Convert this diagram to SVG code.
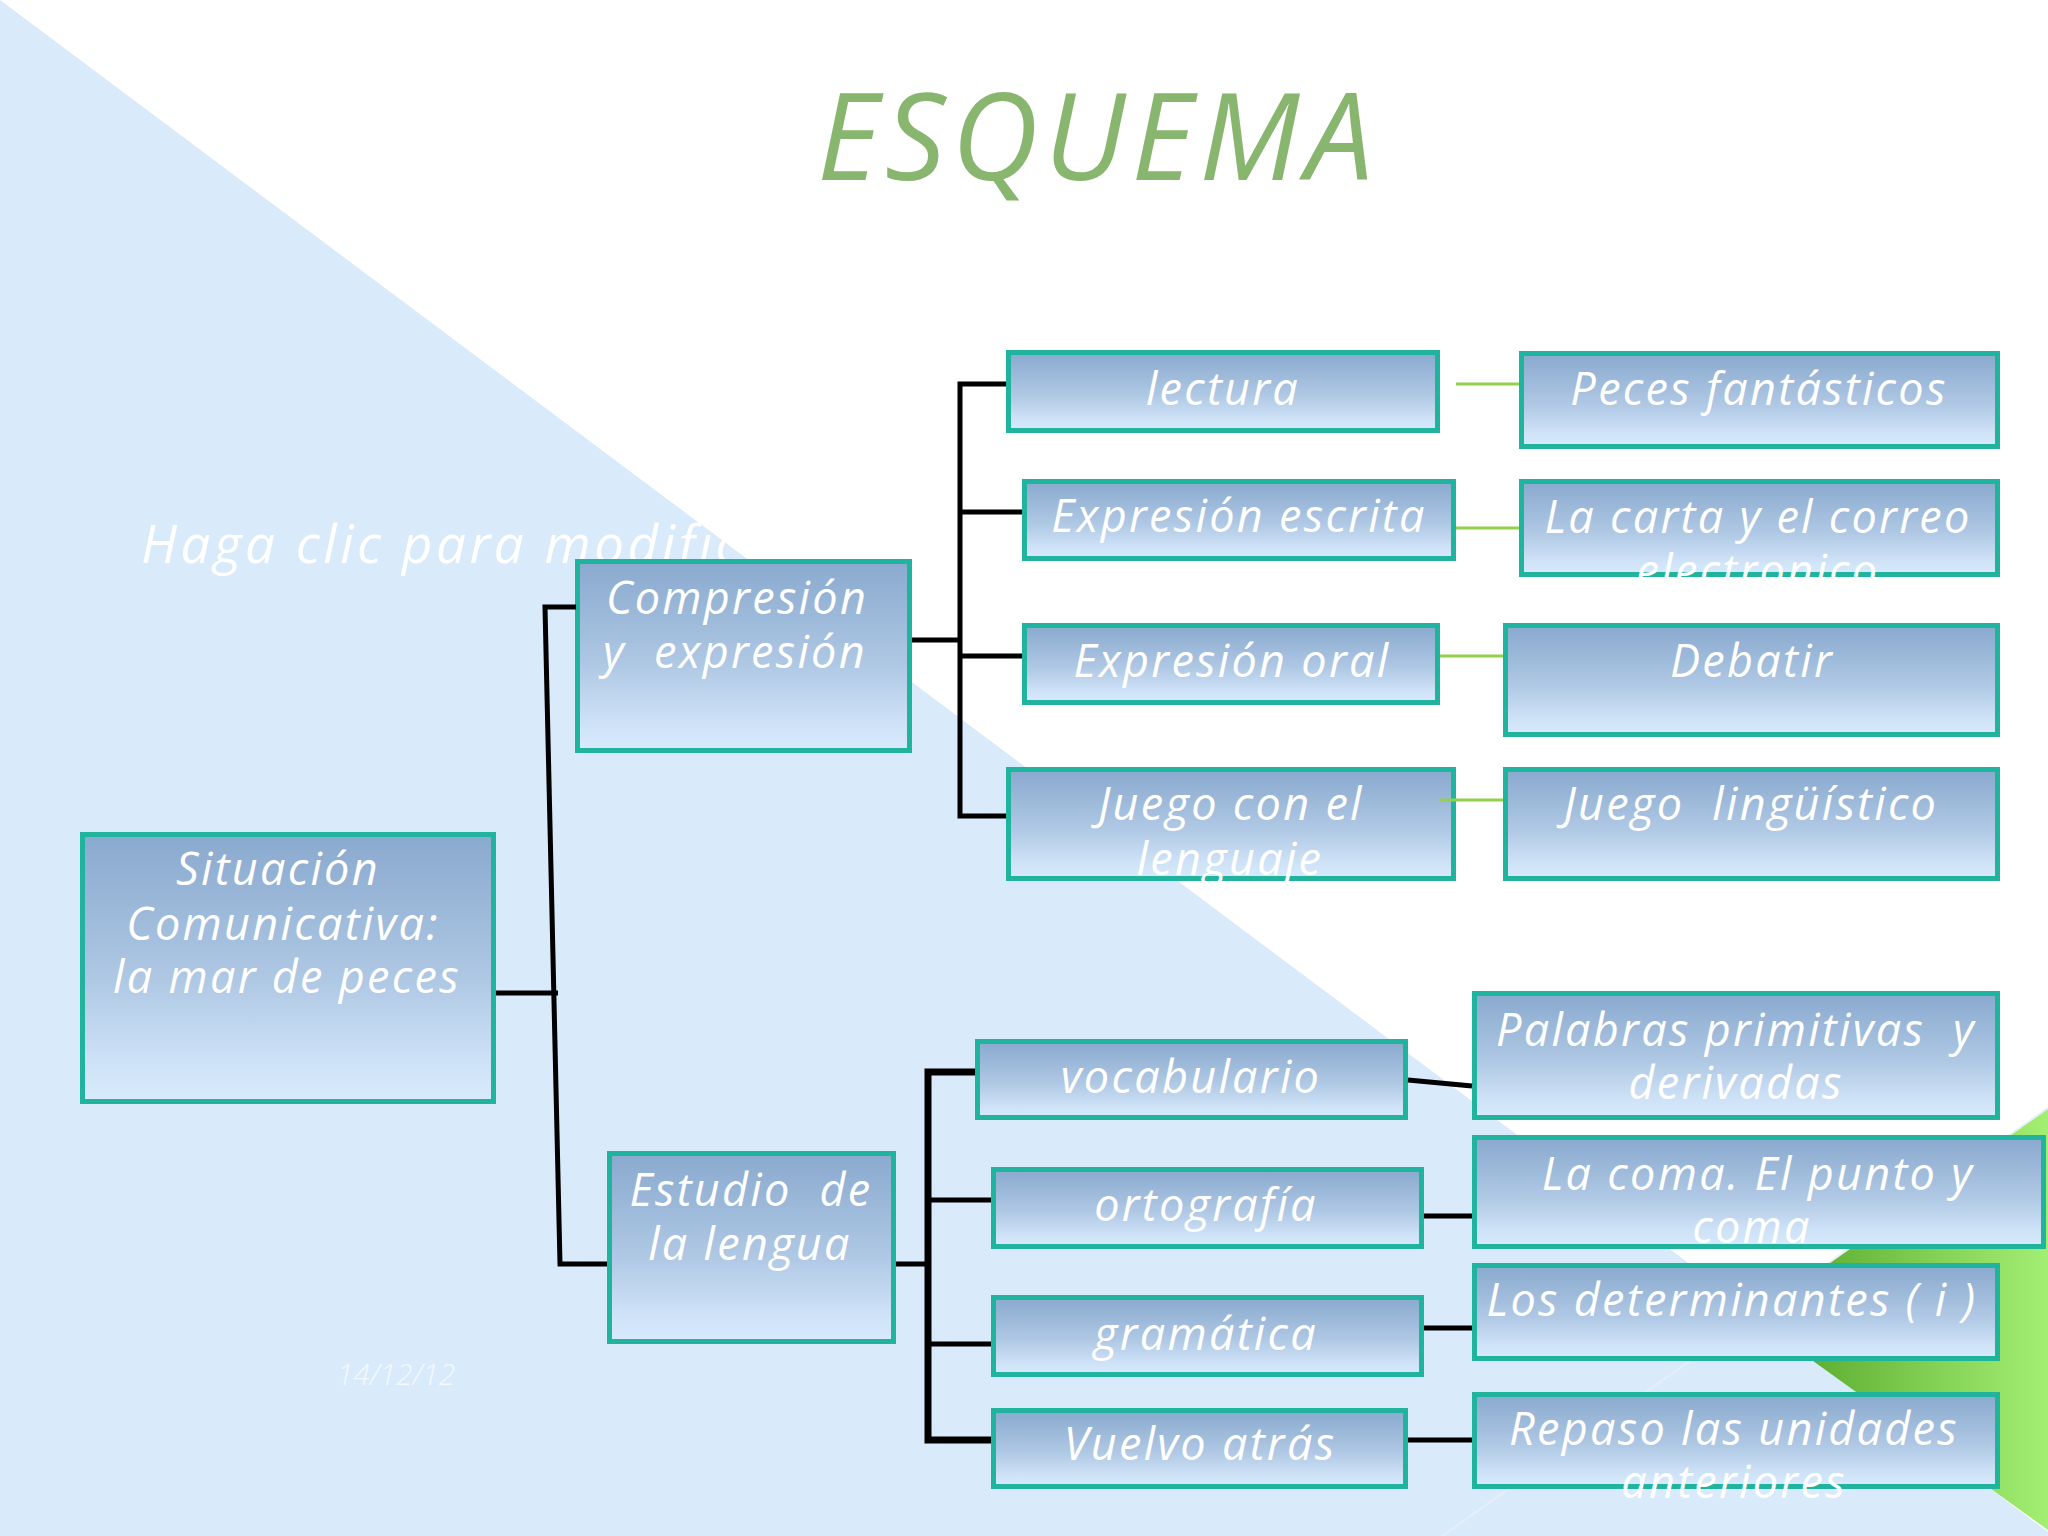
<svg xmlns="http://www.w3.org/2000/svg" width="2048" height="1536" viewBox="0 0 2048 1536" xml:space="preserve">
<defs>
<linearGradient id="boxg" x1="0" y1="0" x2="0" y2="1">
<stop offset="0" stop-color="#89a9ce"/>
<stop offset="0.55" stop-color="#afc8e4"/>
<stop offset="0.85" stop-color="#cee2f7"/>
<stop offset="1" stop-color="#d8ebfc"/>
</linearGradient>
<linearGradient id="greeng" gradientUnits="userSpaceOnUse" x1="1752" y1="0" x2="2048" y2="0">
<stop offset="0" stop-color="#4e9f22"/>
<stop offset="1" stop-color="#a3ef74"/>
</linearGradient>
<style>
.box{fill:url(#boxg);stroke:#20b39d;stroke-width:5}
.t{font-family:"Open Sans","DejaVu Sans",sans-serif;font-style:italic;font-weight:400;font-size:45px;letter-spacing:2.3px;fill:#ffffff;text-anchor:middle;white-space:pre}
.k{fill:none;stroke:#000000;stroke-width:5}
.kb{fill:none;stroke:#000000;stroke-width:7}
.g{fill:none;stroke:#92d050;stroke-width:3}
</style>
</defs>
<rect x="0" y="0" width="2048" height="1536" fill="#ffffff"/>
<polygon points="0,0 2048,1532 2048,1536 0,1536" fill="#d9eafb"/>
<polygon points="2048,1108 1752,1317 2048,1530" fill="url(#greeng)"/>
<line x1="2048" y1="1108" x2="1442" y2="1536" stroke="#e6eef7" stroke-width="2"/>
<text x="141" y="563" style="font-family:'Open Sans','DejaVu Sans',sans-serif;font-style:italic;font-weight:400;font-size:53px;letter-spacing:3.5px;fill:#ffffff;white-space:pre">Haga clic para modific</text>
<text x="396" y="1385" style="font-family:'Open Sans','DejaVu Sans',sans-serif;font-style:italic;font-weight:300;font-size:30px;fill:#f4f9ff;text-anchor:middle">14/12/12</text>
<text x="1098" y="180" style="font-family:'Open Sans','DejaVu Sans',sans-serif;font-style:italic;font-weight:400;font-size:120px;fill:#88b66e;text-anchor:middle;letter-spacing:6px">ESQUEMA</text>

<g id="n-situacion"><rect class="box" x="82.5" y="834.5" width="411" height="267"/>
<text class="t" x="278" y="885">Situación<tspan x="283" dy="55">Comunicativa:</tspan><tspan x="287" dy="53">la mar de peces</tspan></text></g>
<g id="n-compresion"><rect class="box" x="577.5" y="561.5" width="332" height="189"/>
<text class="t" x="737" y="614">Compresión<tspan x="735" dy="54">y  expresión</tspan></text></g>
<g id="n-estudio"><rect class="box" x="609.5" y="1153.5" width="284" height="188"/>
<text class="t" x="751" y="1206">Estudio  de<tspan x="750" dy="54">la lengua</tspan></text></g>
<g id="n-lectura"><rect class="box" x="1008.5" y="352.5" width="429" height="78"/>
<text class="t" x="1223" y="405">lectura</text></g>
<g id="n-escrita"><rect class="box" x="1024.5" y="481.5" width="429" height="77"/>
<text class="t" x="1239" y="532">Expresión escrita</text></g>
<g id="n-oral"><rect class="box" x="1024.5" y="625.5" width="413" height="77"/>
<text class="t" x="1232" y="677">Expresión oral</text></g>
<g id="n-juego"><rect class="box" x="1008.5" y="769.5" width="445" height="109"/>
<text class="t" x="1231" y="820">Juego con el<tspan x="1230" dy="55">lenguaje</tspan></text></g>
<g id="n-peces"><rect class="box" x="1521.5" y="353.5" width="476" height="93"/>
<text class="t" x="1759" y="405">Peces fantásticos</text></g>
<g id="n-carta"><rect class="box" x="1521.5" y="481.5" width="476" height="93"/>
<text class="t" x="1758" y="533">La carta y el correo<tspan x="1758" dy="54">electronico</tspan></text></g>
<g id="n-debatir"><rect class="box" x="1505.5" y="625.5" width="492" height="109"/>
<text class="t" x="1752" y="677">Debatir</text></g>
<g id="n-linguistico"><rect class="box" x="1505.5" y="769.5" width="492" height="109"/>
<text class="t" x="1751" y="820">Juego  lingüístico</text></g>
<g id="n-vocabulario"><rect class="box" x="977.5" y="1041.5" width="428" height="76"/>
<text class="t" x="1191" y="1093">vocabulario</text></g>
<g id="n-ortografia"><rect class="box" x="993.5" y="1169.5" width="428" height="77"/>
<text class="t" x="1206" y="1221">ortografía</text></g>
<g id="n-gramatica"><rect class="box" x="993.5" y="1297.5" width="428" height="77"/>
<text class="t" x="1206" y="1350">gramática</text></g>
<g id="n-vuelvo"><rect class="box" x="993.5" y="1410.5" width="412" height="76"/>
<text class="t" x="1200" y="1460">Vuelvo atrás</text></g>
<g id="n-palabras"><rect class="box" x="1474.5" y="993.5" width="523" height="124"/>
<text class="t" x="1736" y="1046">Palabras primitivas  y<tspan x="1736" dy="53">derivadas</tspan></text></g>
<g id="n-coma"><rect class="box" x="1474.5" y="1137.5" width="569" height="109"/>
<text class="t" x="1758" y="1190">La coma. El punto y<tspan x="1752" dy="53">coma</tspan></text></g>
<g id="n-determinantes"><rect class="box" x="1474.5" y="1265.5" width="523" height="93"/>
<text class="t" x="1732" y="1316">Los determinantes ( i )</text></g>
<g id="n-repaso"><rect class="box" x="1474.5" y="1394.5" width="523" height="92"/>
<text class="t" x="1734" y="1445">Repaso las unidades<tspan x="1734" dy="53">anteriores</tspan></text></g>

<g id="connectors">
<path class="k" d="M496,993 H558"/>
<path class="k" d="M576,607 H545 L560,1264 H607"/>
<path class="k" d="M912,640 H960"/>
<path class="k" d="M1006,384 H960 V816 H1006 M960,512 H1022 M960,656 H1022"/>
<path class="k" d="M896,1264 H928 M928,1200 H991 M928,1344 H991"/>
<path class="kb" d="M975,1072 H928 V1440 H991"/>
<path class="k" d="M1408,1080 L1472,1086 M1424,1216 H1472 M1424,1328 H1472 M1408,1440 H1472"/>
<path class="g" d="M1456,384 H1519 M1456,528 H1519 M1440,656 H1503 M1440,800 H1503"/>
</g>
</svg>
